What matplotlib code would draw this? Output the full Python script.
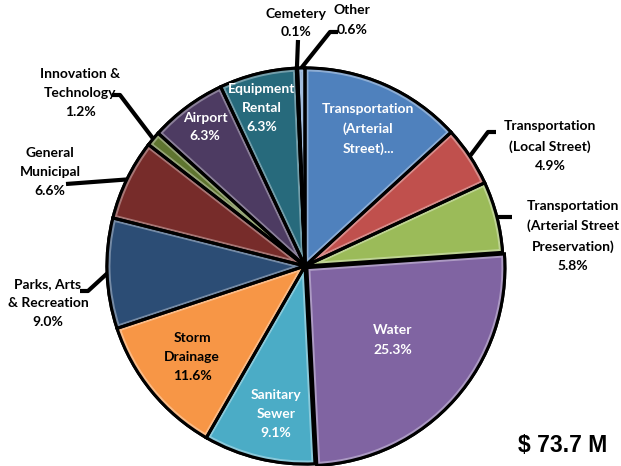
import matplotlib
matplotlib.use("Agg")
import matplotlib.pyplot as plt
import matplotlib.patches as mpatches
import matplotlib.colors as mcolors
import numpy as np

# budget share by fund, clockwise from 12 o'clock
categories = ["Transportation\n(Arterial\nStreet)...", "Transportation\n(Local Street)",
              "Transportation\n(Arterial Street\nPreservation)", "Water", "Sanitary\nSewer",
              "Storm\nDrainage", "Parks, Arts\n& Recreation", "General\nMunicipal",
              "Innovation &\nTechnology", "Airport", "Equipment\nRental", "Cemetery", "Other"]
shares = [13.2, 4.9, 5.8, 25.3, 9.1, 11.6, 9.0, 6.6, 1.2, 6.3, 6.3, 0.1, 0.6]
show_pct = [False, True, True, True, True, True, True, True, True, True, True, True, True]
colors = ["#4f81bd", "#c0504d", "#9bbb59", "#8064a2", "#4bacc6", "#f79646",
          "#2c4d75", "#772c2a", "#5f7530", "#4d3b62", "#276a7c", "#b65708", "#729aca"]
total_label = "$ 73.7 M"

W, H = 621, 466
fig = plt.figure(figsize=(W / 100, H / 100), dpi=100)
ax = fig.add_axes([0, 0, 1, 1])

cx, cy, R = 305, 200, 198
explode = [0, 0, 0, 2.5, 0, 0, 0, 0, 0, 0, 0, 0, 0]
wedges, _ = ax.pie(shares, colors=colors, startangle=90, counterclock=False,
                   radius=R, center=(cx, cy), explode=explode, frame=True,
                   wedgeprops=dict(edgecolor="black", linewidth=2.2))
ax.set_xlim(0, W)
ax.set_ylim(0, H)
ax.set_aspect("equal")
ax.axis("off")

# soft bevel: light inner rim clipped to each wedge
for w, c in zip(wedges, colors):
    light = tuple(np.array(mcolors.to_rgb(c)) * 0.65 + 0.35)
    rim = mpatches.Wedge(w.center, w.r, w.theta1, w.theta2, facecolor="none",
                         edgecolor=light, linewidth=5, zorder=2)
    rim.set_clip_path(w)
    ax.add_patch(rim)
    ax.add_patch(mpatches.Wedge(w.center, w.r, w.theta1, w.theta2, facecolor="none",
                                edgecolor="black", linewidth=2.2, zorder=3))

font = "Lato"
# label placement in pixel coords (x, y from top), text colour, leader elbow
layout = {
    0: ((368, 129), "white", None),
    1: ((550, 146), "black", (488, 132)),
    2: ((573, 236), "black", (512, 217)),
    3: ((393, 340), "white", None),
    4: ((276, 414), "white", None),
    5: ((192, 357), "black", None),
    6: ((48, 303), "black", (88, 291)),
    7: ((50, 172), "black", (66, 184)),
    8: ((80, 93), "black", (120, 95)),
    9: ((205, 127), "white", None),
    10: ((262, 108), "white", None),
    11: ((296, 23), "black", (298, 40)),
    12: ((352, 20), "black", (330, 32)),
}
for i, ((lx, ly), tc, elbow) in layout.items():
    txt = categories[i]
    if show_pct[i]:
        txt += "\n%.1f%%" % shares[i]
    ax.text(lx, H - ly, txt, ha="center", va="center", color=tc, fontsize=10,
            fontweight="bold", family=font, linespacing=1.7, zorder=5)
    if elbow is not None:
        w = wedges[i]
        mid = np.deg2rad((w.theta1 + w.theta2) / 2)
        px = w.center[0] + w.r * np.cos(mid)
        py = w.center[1] + w.r * np.sin(mid)
        ex, ey = elbow
        xs = [px, ex]
        ys = [py, H - ey]
        if i in (1, 12):
            xs.append(ex + 8)
            ys.append(H - ey)
        elif i in (8, 6):
            xs.append(ex - 8)
            ys.append(H - ey)
        if i == 2:
            xs = [px, ex]
            ys = [H - ey, H - ey]
        ax.plot(xs, ys, color="black", lw=3, solid_capstyle="butt", zorder=4)

ax.text(607, H - 445, total_label, ha="right", va="center", fontsize=16.5,
        fontweight="bold", family="Liberation Sans")

fig.savefig("out.png", dpi=100)
